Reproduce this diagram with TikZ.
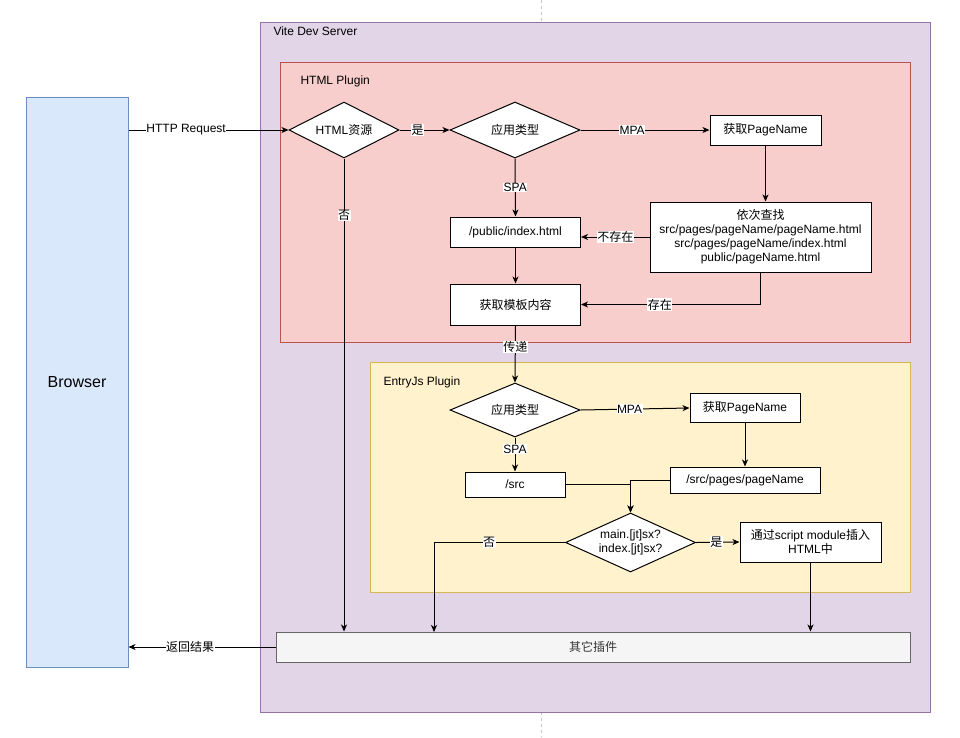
\documentclass[tikz,border=0pt]{standalone}
\usepackage{fontspec}
\setmainfont{Liberation Sans}
\newfontfamily\cjk{Noto Sans CJK SC}
\newcommand{\zh}[1]{{\cjk #1}}
\usepackage{tikz}
\usetikzlibrary{shapes.geometric,arrows.meta}
\definecolor{vitefill}{HTML}{E1D5E7}
\definecolor{vitedraw}{HTML}{9673A6}
\definecolor{htmlfill}{HTML}{F8CECC}
\definecolor{htmldraw}{HTML}{B85450}
\definecolor{entryfill}{HTML}{FFF2CC}
\definecolor{entrydraw}{HTML}{D6B656}
\definecolor{browserfill}{HTML}{DAE8FC}
\definecolor{browserdraw}{HTML}{6C8EBF}
\definecolor{otherfill}{HTML}{F5F5F5}
\definecolor{otherdraw}{HTML}{666666}
\definecolor{othertext}{HTML}{333333}

\begin{document}
\begin{tikzpicture}
    [
        x=1pt, y=-1pt,
        line width=1pt,
        font=\fontsize{12}{14}\selectfont,
        box/.style={draw, fill=white, inner sep=0pt, align=center},
        decision/.style={diamond, draw, fill=white, inner sep=0pt, align=center, aspect=2.2},
        flow/.style={-{Stealth[length=7pt,width=6pt,inset=2pt]}},
        tag/.style={fill=white, inner sep=0.5pt},
        title/.style={anchor=west, inner sep=0pt}
    ]
    \useasboundingbox (0,0) rectangle (960,737);
    \draw[gray!45, line width=0.8pt, dash pattern=on 3pt off 3pt] (541,0) -- (541,22);
    \draw[gray!45, line width=0.8pt, dash pattern=on 3pt off 3pt] (541,712) -- (541,737);

    % containers
    \draw[fill=vitefill, draw=vitedraw] (260,22) rectangle (930,712);
    \node[title] (vitetitle) at (273,31) {Vite Dev Server};
    \draw[fill=htmlfill, draw=htmldraw] (280,62) rectangle (910,342);
    \node[title] (htmltitle) at (300,81) {HTML Plugin};
    \draw[fill=entryfill, draw=entrydraw] (370,362) rectangle (910,592);
    \node[title] (entrytitle) at (383,382) {EntryJs Plugin};

    % browser and other plugins
    \node[draw=browserdraw, fill=browserfill, minimum width=102pt, minimum height=570pt,
          font=\fontsize{16}{18}\selectfont] (browser) at (77,382) {Browser};
    \node[draw=otherdraw, fill=otherfill, text=othertext, minimum width=634pt, minimum height=30pt]
          (others) at (593,647) {\zh{其它插件}};

    % HTML plugin
    \node[decision, aspect=2, minimum width=110pt, minimum height=56pt] (res) at (344,130) {HTML\zh{资源}};
    \node[decision, aspect=2.3, minimum width=130pt, minimum height=56pt] (type1) at (515,130) {\zh{应用类型}};
    \node[box, minimum width=111pt, minimum height=30pt] (getname1) at (765.5,130) {\zh{获取}PageName};
    \node[box, minimum width=221pt, minimum height=70pt] (find) at (760.5,237)
          {\zh{依次查找}\\src/pages/pageName/pageName.html\\src/pages/pageName/index.html\\public/pageName.html};
    \node[box, minimum width=130pt, minimum height=30pt] (public) at (515.5,232) {/public/index.html};
    \node[box, minimum width=130pt, minimum height=41pt] (tpl) at (515.5,304.5) {\zh{获取模板内容}};

    % EntryJs plugin
    \node[decision, aspect=2.4, minimum width=130pt, minimum height=54pt] (type2) at (515,410) {\zh{应用类型}};
    \node[box, minimum width=110pt, minimum height=29pt] (getname2) at (745,408) {\zh{获取}PageName};
    \node[box, minimum width=100pt, minimum height=25pt] (src) at (515,484.5) {/src};
    \node[box, minimum width=150pt, minimum height=26pt] (pages) at (745,480) {/src/pages/pageName};
    \node[decision, aspect=2.2, inner sep=-3pt, minimum width=130pt, minimum height=59pt] (entry) at (630.5,542.5) {main.[jt]sx?\\index.[jt]sx?};
    \node[box, minimum width=141pt, minimum height=40pt] (inject) at (810.5,542) {\zh{通过}script module\zh{插入}\\HTML\zh{中}};
    \coordinate (nodrop) at (434,632);

    % connectors
    \draw[flow] (browser.east |- res.west) -- node[tag, pos=0.36] {HTTP Request} (res.west);
    \draw[flow] (res.east) -- node[tag, pos=0.36] {\zh{是}} (type1.west);
    \draw[flow] (type1.east) -- node[tag, pos=0.4] {MPA} (getname1.west);
    \draw[flow] (type1.south) -- node[tag] {SPA} (public.north);
    \draw[flow] (getname1.south) -- (getname1.south |- find.north);
    \draw[flow] (find.west) -- node[tag] {\zh{不存在}} (find.west -| public.east);
    \draw[flow] (find.south) |- node[tag, pos=0.78] {\zh{存在}} (tpl.east);
    \draw[flow] (public.south) -- (tpl.north);
    \draw[flow] (tpl.south) -- node[tag, pos=0.37] {\zh{传递}} (type2.north);
    \draw[flow] (res.south) -- node[tag, pos=0.12] {\zh{否}} (res.south |- others.north);

    \draw[flow] (type2.east) -- node[tag, pos=0.45] {MPA} (getname2.west);
    \draw[flow] (type2.south) -- node[tag, pos=0.34] {SPA} (src.north);
    \draw[flow] (getname2.south) -- (pages.north);
    \draw[flow] (src.east) -| (entry.north);
    \draw[flow] (pages.west) -| (entry.north);
    \draw[flow] (entry.east) -- node[tag, pos=0.47] {\zh{是}} (inject.west);
    \draw[flow] (entry.west) -| node[tag, pos=0.29] {\zh{否}} (nodrop);
    \draw[flow] (inject.south) -- (inject.south |- others.north);
    \draw[flow] (others.west) -- node[tag, pos=0.58] {\zh{返回结果}} (others.west -| browser.east);
\end{tikzpicture}
\end{document}
